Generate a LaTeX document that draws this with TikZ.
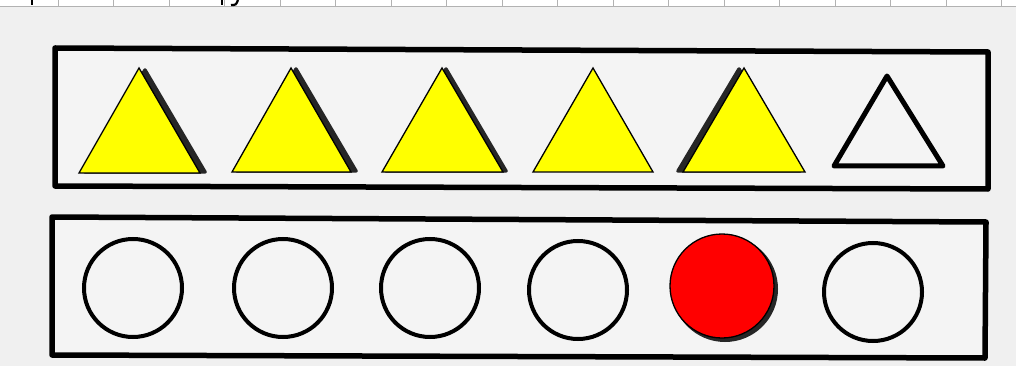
\documentclass[tikz,border=0pt]{standalone}
\usetikzlibrary{calc}
\definecolor{ylw}{RGB}{255,255,0}
\definecolor{rd}{RGB}{255,0,0}
\definecolor{bg}{RGB}{240,240,240}
\definecolor{inbg}{RGB}{244,244,244}
\tikzset{
  frame/.style={draw=black, line width=5.5pt, line join=round, fill=inbg},
  tri/.style={draw=black, line width=1.3pt, fill=ylw, line join=miter},
  trishadow/.style={draw=black!85, line width=3.5pt, line join=round, fill=black!85},
  opentri/.style={draw=black, line width=5pt, line join=round},
  ring/.style={draw=black, line width=4pt, circle, inner sep=0pt, minimum size=98pt, fill=inbg},
  redball/.style={draw=black, line width=1.3pt, circle, inner sep=0pt, fill=rd, minimum size=104pt},
  tick/.style={draw=black!30, line width=0.8pt}
}
\begin{document}
\begin{tikzpicture}[x=1pt,y=-1pt]
\useasboundingbox (0,0) rectangle (1016,366);
\fill[bg] (0,0) rectangle (1016,366);
% top strip
\fill[white] (0,0) rectangle (1016,6);
\draw[tick] (0,6) -- (1016,6);
\foreach \i in {0,...,17} { \draw[tick] ({58+55.5*\i},0) -- ({58+55.5*\i},6); }
\draw[black, line width=2.5pt] (32,0) -- (32,5);
\draw[black, line width=2.5pt] (222,0) -- (222,5);
\draw[black, line width=2.2pt] (238,0) .. controls (236,5) .. (231,5);

% frames
\draw[frame] (55,48) -- (988,52) -- (988,189) -- (55,186) -- cycle;
\draw[frame] (52,217) -- (986,222) -- (985,358) -- (52,355) -- cycle;

% triangle shadows (original hand-drawn triangles under the yellow ones)
\fill[trishadow] (145,70) -- (85,172) -- (205,172) -- cycle;
\fill[trishadow] (296,69) -- (237,171) -- (356,171) -- cycle;
\fill[trishadow] (446,69) -- (386,171) -- (506,171) -- cycle;
\fill[trishadow] (739,69) -- (678,171) -- (800,171) -- cycle;

% yellow triangles
\draw[tri] (139,68) -- (79,173) -- (200,173) -- cycle;
\draw[tri] (291,68) -- (232,172) -- (351,172) -- cycle;
\draw[tri] (442,68) -- (382,172) -- (503,172) -- cycle;
\draw[tri] (593,68) -- (533,172) -- (653,172) -- cycle;
\draw[tri] (744,68) -- (683,172) -- (805,172) -- cycle;

% open triangle
\draw[opentri] (887,76) -- (834,166) -- (943,166) -- cycle;

% circles
\node[ring] (c1) at (133,288) {};
\node[ring] (c2) at (283,288) {};
\node[ring] (c3) at (430,288) {};
\node[ring] (c4) at (578,290) {};
\fill[black!85] (725,289) circle (53pt);
\node[redball] (c5) at (722,286) {};
\node[ring] (c6) at (873,292) {};
\end{tikzpicture}
\end{document}
